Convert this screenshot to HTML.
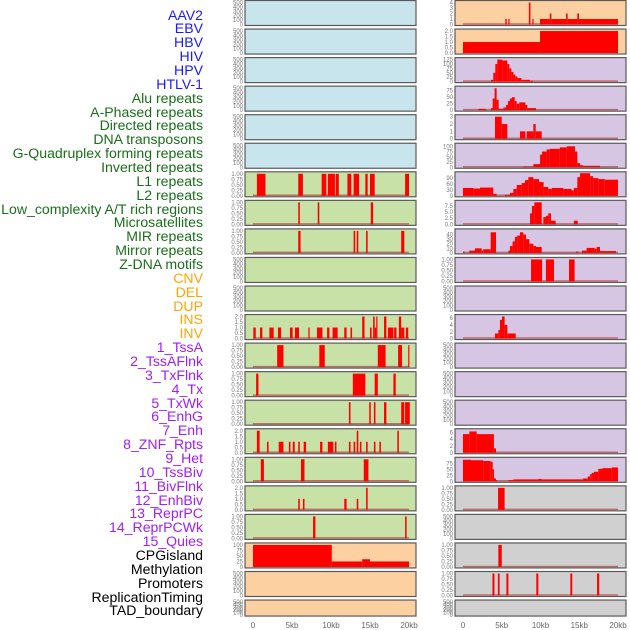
<!DOCTYPE html>
<html><head><meta charset="utf-8">
<style>
body{margin:0;background:#fff;width:630px;height:630px;overflow:hidden;position:relative;font-family:"Liberation Sans",sans-serif}
.lab{position:absolute;right:427px;font-size:14.1px;line-height:14px;white-space:nowrap}
svg{position:absolute;left:0;top:0}
</style></head><body>
<div id="labels"></div>
<svg id="chart" width="630" height="630"></svg>
<script>
// ---- labels ----
const labelNames=["AAV2","EBV","HBV","HIV","HPV","HTLV-1","Alu repeats","A-Phased repeats","Directed repeats","DNA transposons","G-Quadruplex forming repeats","Inverted repeats","L1 repeats","L2 repeats","Low_complexity A/T rich regions","Microsatellites","MIR repeats","Mirror repeats","Z-DNA motifs","CNV","DEL","DUP","INS","INV","1_TssA","2_TssAFlnk","3_TxFlnk","4_Tx","5_TxWk","6_EnhG","7_Enh","8_ZNF_Rpts","9_Het","10_TssBiv","11_BivFlnk","12_EnhBiv","13_ReprPC","14_ReprPCWk","15_Quies","CPGisland","Methylation","Promoters","ReplicationTiming","TAD_boundary"];
const labelGroups=[6,13,5,15,5];
const groupColors=["#1a1aff","#1a6e1a","#ffa500","#a020f0","#000000"];
// ---- x axis ----
const xTickVals=[0,5,10,15,20];
const xTickLabels=["0","5kb","10kb","15kb","20kb"];
// ---- row backgrounds ----
const leftBg=["b","b","b","b","b","b","g","g","g","g","g","g","g","g","g","g","g","g","g","p","p","p"];
const rightBg=["p","p","l","l","l","l","l","l","l","l","l","l","l","l","l","l","l","y","y","y","y","y"];
// ---- left column data [startKb,endKb,value] ----
const L7=[[0.5,1.6,1],[5.8,6.4,1],[8.8,9.4,1],[9.6,10.5,1],[10.6,11.0,1],[12.1,12.6,1],[12.9,13.6,1],[14.4,14.7,1],[15.0,15.6,1],[19.5,20,1]];
const L8=[[5.8,6.0,1],[8.3,8.5,1],[15.1,15.4,1]];
const L9=[[5.8,6.1,1],[12.9,13.1,1],[13.3,13.5,1],[14.5,14.7,1],[19.0,19.4,1]];
const L12=[[0.04,0.35,1],[0.9,1.2,1],[2.1,2.65,1],[3.2,3.6,1],[4.74,5.08,1],[5.38,5.9,1],[7.1,7.26,1],[8.2,8.9,1],[9.5,9.8,1],[10.2,10.85,1],[11.7,12.0,1],[12.5,12.7,1],[14.0,14.3,2],[15.0,15.2,1],[15.4,15.6,2],[15.6,15.8,1],[15.8,15.95,2],[16.8,17.1,2],[17.3,18.0,1],[18.1,18.4,1],[18.7,19.0,2],[19.0,19.4,1],[19.6,19.9,1]];
const L13=[[3.1,3.9,1],[8.5,9.2,1],[16.0,17.0,1],[18.6,19.1,1],[19.9,20.0,1]];
const L14=[[0.4,0.7,1],[12.8,14.4,1],[15.6,16.0,1],[18.0,18.3,1]];
const L15=[[12.3,12.5,1],[14.9,15.1,1],[15.5,15.7,1],[16.8,17.1,1],[19.0,19.4,1],[19.5,20.1,1]];
const L16=[[0.5,0.85,2],[1.8,2.0,1],[3.3,3.9,1],[4.6,4.8,1],[5.1,5.35,1],[5.8,6.0,1],[6.5,6.8,1],[8.6,8.9,1],[9.6,10.3,1],[10.5,10.7,1],[12.3,12.5,1],[12.9,13.1,1],[13.3,13.5,2],[13.7,13.9,1],[14.5,14.7,1],[15.5,15.7,1],[16.2,16.4,1],[18.5,18.7,2]];
const L17=[[1.0,1.4,1],[6.15,6.6,1],[14.2,14.8,1]];
const L18=[[5.8,6.0,1],[6.4,6.6,1],[11.7,12.0,1],[13.3,13.5,1],[14.5,14.7,2]];
const L19=[[7.7,8.0,1],[19.5,19.7,1]];
const L20=[[0,10.1,100],[10.1,14.0,25],[14.0,15.0,35],[15.0,20,25]];
// ---- right column data ----
const R1=[[5.46,5.64,1],[5.85,6.0,1],[8.5,8.7,4],[8.95,9.1,1],[9.94,11.2,1],[11.2,11.4,2],[11.4,13.3,1],[13.3,13.5,2],[13.5,14.75,1],[14.75,14.97,2],[14.97,20,1]];
const R2=[[0,9.94,1],[9.94,20,2]];
const R3=[[3.61,3.91,10],[3.91,4.17,50],[4.17,4.43,100],[4.43,5.08,125],[5.08,5.72,120],[5.72,5.98,100],[5.98,6.24,75],[6.24,6.5,55],[6.5,6.75,40],[6.75,7.01,30],[7.01,7.53,20],[7.53,8.65,10],[8.65,9.0,5]];
const R4=[[2.0,2.93,5],[3.61,3.83,8],[3.83,4.08,45],[4.08,4.34,85],[4.34,4.6,40],[4.6,5.2,5],[5.2,5.55,10],[5.55,5.8,20],[5.8,6.06,35],[6.06,6.32,45],[6.32,6.67,50],[6.67,6.93,35],[6.93,7.27,25],[7.27,8.05,30],[8.05,8.3,20],[8.3,9.42,8]];
const R5=[[4.13,4.99,3],[4.99,5.72,2],[7.35,8.05,1],[8.22,9.08,1],[9.08,9.38,2],[9.38,10.15,1]];
const R6=[[7.78,9.08,3],[9.08,9.94,15],[9.94,10.2,60],[10.2,10.8,75],[10.8,11.2,85],[11.2,12.5,88],[12.5,13.4,95],[13.4,14.45,100],[14.45,14.75,75],[14.75,15.1,20],[15.1,15.5,10],[15.5,17.68,7]];
const R7=[[0,1.33,40],[1.33,2.19,37],[2.19,3.91,42],[3.91,4.34,10],[5.42,6.06,5],[6.06,6.5,15],[6.5,6.93,35],[6.93,7.57,55],[7.57,8.0,65],[8.0,8.43,80],[8.43,9.08,95],[9.08,9.81,85],[9.81,10.4,70],[10.4,11.0,45],[11.0,11.45,35],[11.45,12.95,40],[12.95,14.0,35],[14.0,14.3,28],[14.3,14.75,40],[14.75,15.1,95],[15.1,16.4,115],[16.4,16.8,100],[16.8,17.46,90],[17.46,18.3,85],[18.3,20,82]];
const R8=[[8.65,8.9,4.5],[8.9,9.2,7.5],[9.2,10.15,9],[10.37,10.7,3],[10.7,11.0,3.5],[11.0,11.35,4.5],[11.35,11.96,1.5],[14.3,14.8,1.5]];
const R9=[[0,0.21,3],[0.82,1.55,5],[1.55,2.41,10],[2.41,2.62,5],[2.62,3.57,8],[3.57,4.26,45],[5.85,6.06,5],[6.06,6.4,15],[6.4,6.7,25],[6.7,7.0,35],[7.0,7.35,38],[7.35,7.78,45],[7.78,8.13,40],[8.13,8.56,30],[8.56,9.08,20],[9.08,9.42,15],[9.42,10.15,13],[14.58,14.88,3],[15.35,15.95,5],[15.95,17.0,11],[17.0,17.25,9],[17.25,17.68,13],[17.68,19.74,4]];
const R10=[[8.78,10.2,1],[10.7,11.74,1],[13.68,14.4,1]];
const R12=[[4.13,4.56,1.5],[4.56,4.77,2.5],[4.77,5.03,5.5],[5.03,5.37,6.5],[5.37,5.72,4],[5.72,6.8,1.5]];
const R16=[[0,0.82,5.5],[0.82,1.76,6.3],[1.76,3.99,5.5],[3.99,4.26,1.3]];
const R17=[[0,1.03,90],[1.03,2.62,88],[2.62,3.57,85],[3.57,3.83,82],[3.83,4.0,50],[4.0,4.26,12],[4.26,4.43,4],[5.85,6.5,5],[6.5,9.72,8],[9.72,10.15,10],[10.15,15.5,8],[15.5,16.1,12],[16.1,16.4,20],[16.4,16.6,30],[16.6,16.9,35],[16.9,17.46,40],[17.46,18.0,52],[18.0,19.2,55],[19.2,20,58]];
const R18=[[4.52,5.37,1]];
const R20=[[4.56,5.0,1]];
const R21=[[3.8,4.06,1],[4.5,4.72,1],[5.6,5.86,1],[9.46,9.72,1],[13.85,14.1,1],[17.3,17.58,1]];
// ---- tick sets ----
const tEmpty=[0,100,200,300,400,500];
const tOne=[0,0.25,0.5,0.75,1];
const tTwo=[0,0.5,1,1.5,2];
const tFour=[0,1,2,3,4];
const leftPanels={7:[L7,1,tOne],8:[L8,1,tOne],9:[L9,1,tOne],12:[L12,2,tTwo],13:[L13,1,tOne],14:[L14,1,tOne],15:[L15,1,tOne],16:[L16,2,tTwo],17:[L17,1,tOne],18:[L18,2,tTwo],19:[L19,1,tOne],20:[L20,100,[0,25,50,75,100]]};
const rightPanels={1:[R1,4,tFour],2:[R2,2,[0,0.5,1,1.5,2]],3:[R3,125,[0,25,50,75,100,125]],4:[R4,85,[0,25,50,75]],5:[R5,3,[0,1,2,3]],6:[R6,105,[0,25,50,75,100]],7:[R7,112,[0,30,60,90]],8:[R8,9,[0,2.5,5,7.5]],9:[R9,48,[0,10,20,30,40]],10:[R10,1,tOne],12:[R12,6.5,[0,2,4,6]],16:[R16,6.5,[0,2,4,6]],17:[R17,92,[0,25,50,75]],18:[R18,1,tOne],20:[R20,1,tOne],21:[R21,1,tOne]};

const bgColors={b:"#c8e4ec",g:"#c8e1a6",p:"#fdd0a2",l:"#d6c6e3",y:"#d0d0d0"};
const NS="http://www.w3.org/2000/svg";
const svg=document.getElementById('chart');
function xL(kb){return 253+kb*7.8;}
function xR(kb){return 463+kb*7.75;}
function rowTop(i){return 0.5+(i-1)*28.55;}
function rowH(i){return i===22?16:25;}
function yS(v,top,h,max){return top+h-1-v/max*(h-3);}
function mk(tag,attrs){const e=document.createElementNS(NS,tag);for(const k in attrs)e.setAttribute(k,attrs[k]);svg.appendChild(e);return e;}
function fmt(t,ticks){const m=ticks[ticks.length-1];if(m<=2&&ticks.some(v=>v%1))return ticks.includes(0.25)?t.toFixed(2):t.toFixed(1);if(ticks.includes(2.5))return t.toFixed(1);return String(t);}

// labels
const labDiv=document.getElementById('labels');
let idx=0;
labelGroups.forEach((n,g)=>{for(let k=0;k<n;k++){const d=document.createElement('div');d.className='lab';d.textContent=labelNames[idx];d.style.top=(15+idx*13.86-7.5)+'px';d.style.color=groupColors[g];


labDiv.appendChild(d);idx++;}});

function drawPanel(i,side){
  const top=rowTop(i),h=rowH(i);
  const x0=side==='L'?245:455, w=171;
  const xf=side==='L'?xL:xR;
  const bg=(side==='L'?leftBg:rightBg)[i-1];
  const r=mk('rect',{x:x0,y:top,width:w,height:h,fill:bgColors[bg],stroke:"#5a5a5a","stroke-width":1.2});
  
  
  const p=(side==='L'?leftPanels:rightPanels)[i];
  const ticks=p?p[2]:tEmpty, max=p?p[1]:500;
  ticks.forEach(t=>{const y=yS(t,top,h,max);
    const tx=mk('text',{x:x0-2,y:y+2,"font-size":6,fill:"#777","text-anchor":"end"});tx.textContent=fmt(t,ticks);
    
    });
  if(!p)return;
  const base=mk('line',{x1:xf(0),x2:xf(20),y1:top+h-1.5,y2:top+h-1.5,stroke:"#b84040","stroke-width":1.5,opacity:0.7});
  
  
  p[0].forEach(s=>{const xa=xf(s[0]),xb=xf(s[1]),yt=yS(s[2],top,h,max);
    const b=mk('rect',{x:xa,y:yt,width:Math.max(1.2,xb-xa),height:top+h-1-yt,fill:"#ff0000"});
    
    });
}
for(let i=1;i<=22;i++){drawPanel(i,'L');drawPanel(i,'R');}
// x axes
[xL,xR].forEach(xf=>{xTickVals.forEach((v,k)=>{const t=mk('text',{x:xf(v),y:628,"font-size":8,fill:"#666","text-anchor":"middle"});t.textContent=xTickLabels[k];

});});
</script>
</body></html>
